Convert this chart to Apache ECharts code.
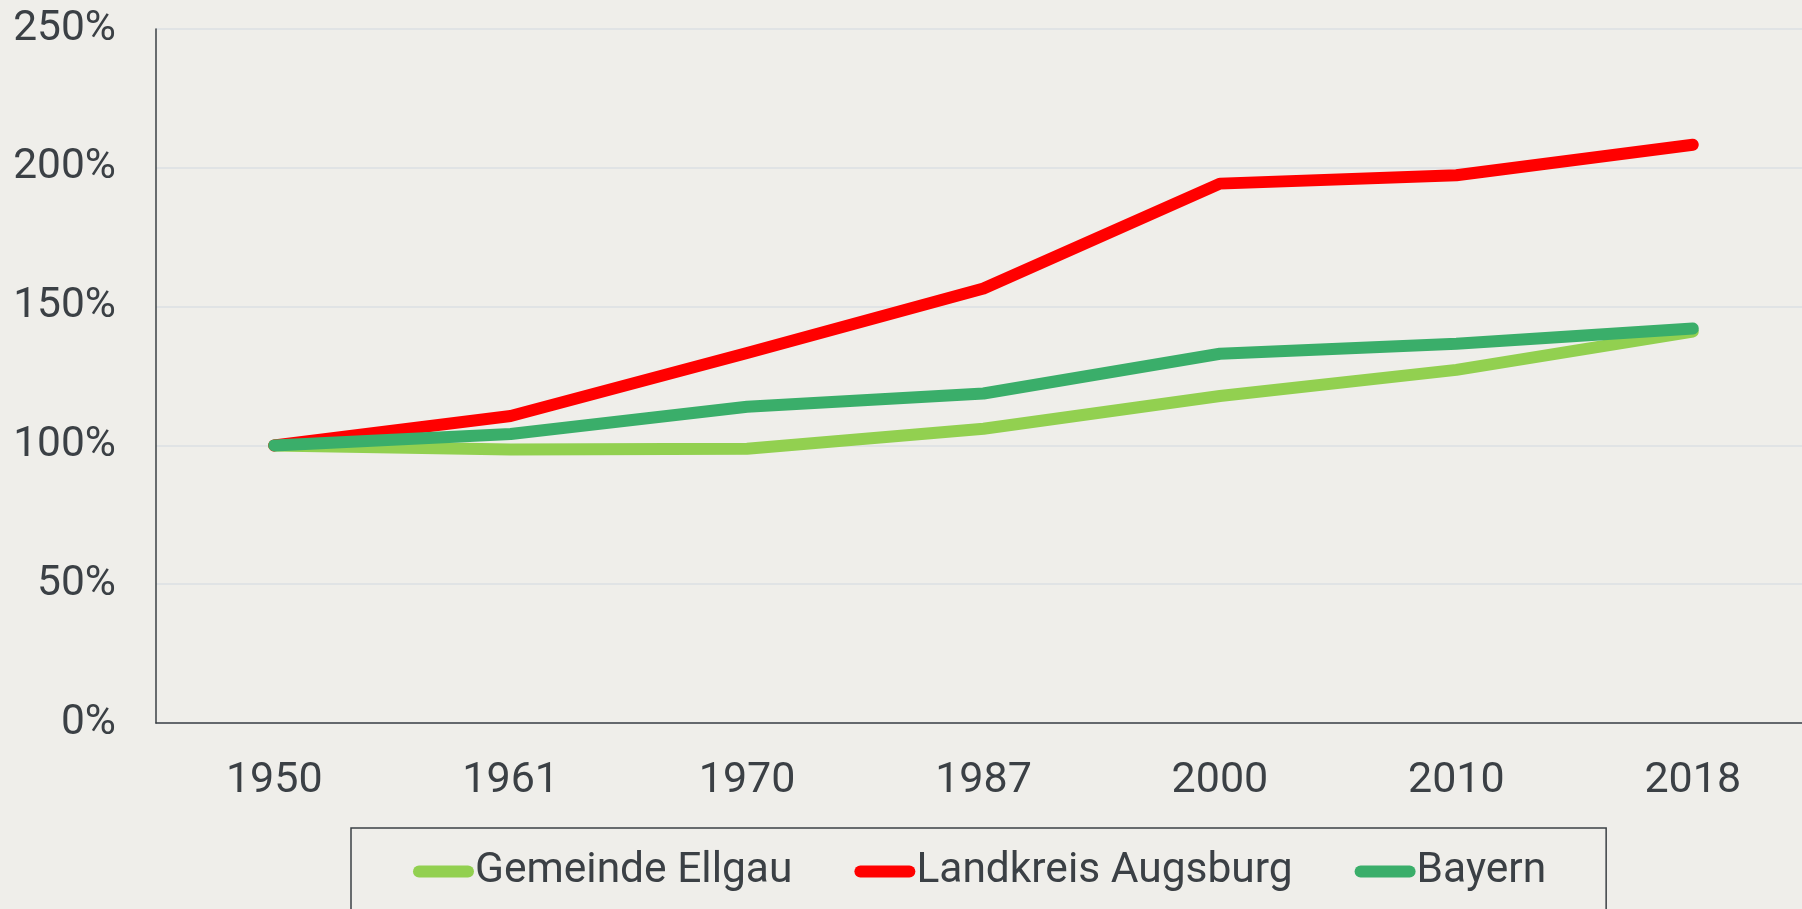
<!DOCTYPE html>
<html>
<head>
<meta charset="utf-8">
<script src="https://cdn.jsdelivr.net/npm/echarts@6/dist/echarts.min.js"></script>
<style>
  html, body { margin: 0; padding: 0; background: #efeeea; }
  #chart { width: 1802px; height: 909px; }
</style>
</head>
<body>
<div id="chart"></div>
<script>
const years = ["1950", "1961", "1970", "1987", "2000", "2010", "2018"];
const ellgau = [100, 98.5, 98.8, 106, 117.8, 127.2, 141];
const augsburg = [100, 110.6, 133.3, 156.5, 194.3, 197.3, 208.3];
const bayern = [100, 104.1, 113.9, 118.7, 133, 136.6, 142.1];

const textColor = "#3b4045";
const capsule = "path://M6,0 H55 A6,6 0 0 1 55,12 H6 A6,6 0 0 1 6,0 Z";

const lineSeries = (name, data, color) => ({
  name,
  type: "line",
  data,
  showSymbol: false,
  symbol: "none",
  color,
  lineStyle: { width: 12, color, cap: "round", join: "round" },
  emphasis: { disabled: true },
});

const chart = echarts.init(document.getElementById("chart"));
chart.setOption({
  backgroundColor: "#efeeea",
  animation: false,
  textStyle: { fontFamily: "Roboto" },
  // plot area runs a little past the right edge of the picture
  grid: { left: 156, top: 29, width: 1655, height: 694, outerBoundsMode: "none" },
  xAxis: {
    type: "category",
    data: years,
    axisLine: { lineStyle: { color: textColor, width: 1.5 } },
    axisTick: { show: false },
    axisLabel: { color: textColor, fontSize: 43, margin: 37 },
  },
  yAxis: {
    type: "value",
    min: 0,
    max: 250,
    interval: 50,
    axisLine: { show: true, lineStyle: { color: textColor, width: 1.5 } },
    axisTick: { show: false },
    axisLabel: { color: textColor, fontSize: 42.5, margin: 40, formatter: "{value}%" },
    splitLine: { lineStyle: { color: "#e0e3e5", width: 2 } },
  },
  legend: {
    left: 351,
    top: 828,
    padding: [22, 60, 60, 62],
    itemGap: 62,
    itemWidth: 61,
    itemHeight: 12,
    icon: capsule,
    borderColor: textColor,
    borderWidth: 1.5,
    textStyle: { color: textColor, fontSize: 42.5, padding: [0, 0, 0, -4] },
    data: ["Gemeinde Ellgau", "Landkreis Augsburg", "Bayern"],
  },
  series: [
    lineSeries("Gemeinde Ellgau", ellgau, "#92d050"),
    lineSeries("Landkreis Augsburg", augsburg, "#ff0000"),
    lineSeries("Bayern", bayern, "#3aae6a"),
  ],
});
</script>
</body>
</html>
